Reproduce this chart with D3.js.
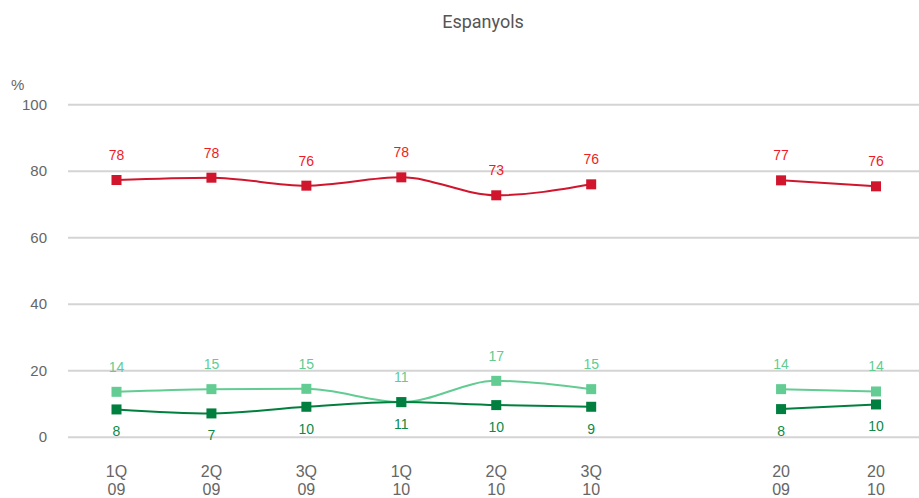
<!DOCTYPE html>
<html>
<head>
<meta charset="utf-8">
<script src="https://cdn.jsdelivr.net/npm/d3@7"></script>
<style>
html,body{margin:0;padding:0;background:#fff;}
svg{display:block;font-family:"Liberation Sans",Arial,sans-serif;}
</style>
</head>
<body>
<svg id="chart" width="919" height="498"></svg>
<script>
const categories = ["1Q|09","2Q|09","3Q|09","1Q|10","2Q|10","3Q|10","gap","20|09","20|10"];
const groups = [["1Q|09","2Q|09","3Q|09","1Q|10","2Q|10","3Q|10"],["20|09","20|10"]];
const redValues   = [77.2, 77.9, 75.5, 78.0, 72.6, 75.9, null, 77.1, 75.3];
const redLabels   = ["78","78","76","78","73","76",null,"77","76"];
const lightValues = [13.5, 14.3, 14.4, 10.4, 16.8, 14.3, null, 14.3, 13.6];
const lightLabels = ["14","15","15","11","17","15",null,"14","14"];
const darkValues  = [8.2, 7.0, 9.0, 10.4, 9.5, 9.0, null, 8.3, 9.7];
const darkLabels  = ["8","7","10","11","10","9",null,"8","10"];
const yTicks = [0, 20, 40, 60, 80, 100];

const svg = d3.select("#chart");
const x = d3.scalePoint().domain(categories).range([116.5, 876]);
const y = d3.scaleLinear().domain([0, 100]).range([436.7, 104.2]);

svg.append("text").attr("x", 483).attr("y", 28).attr("text-anchor", "middle")
  .attr("font-family", "Roboto, 'Liberation Sans', sans-serif")
  .attr("font-size", 18).attr("fill", "#555").text("Espanyols");

svg.append("text").attr("x", 11).attr("y", 90).attr("font-size", 15).attr("fill", "#666").text("%");

// grid + y axis
const yAxis = d3.axisLeft(y).tickValues(yTicks).tickSize(-(919 - 68)).tickPadding(21);
const ga = svg.append("g").attr("transform", "translate(68,0)").call(yAxis);
ga.select(".domain").remove();
ga.selectAll(".tick line").attr("stroke", "#d4d4d4").attr("stroke-width", 2);
ga.selectAll(".tick text").attr("font-size", 15).attr("fill", "#666")
  .attr("font-family", "'Liberation Sans', Arial, sans-serif");

// x labels
const xl = svg.append("g");
categories.forEach(c => {
  if (c === "gap") return;
  const [a, b] = c.split("|");
  const t = xl.append("text").attr("x", x(c)).attr("text-anchor", "middle")
    .attr("font-size", 16).attr("fill", "#666");
  t.append("tspan").attr("x", x(c)).attr("y", 477).text(a);
  t.append("tspan").attr("x", x(c)).attr("y", 495).text(b);
});

const series = [
  {vals: redValues, labels: redLabels, color: "#d0152d", labColor: "#ee1c25", dy: -20},
  {vals: lightValues, labels: lightLabels, color: "#62cc93", labColor: "#62cc93", dy: -20},
  {vals: darkValues, labels: darkLabels, color: "#007f3e", labColor: "#0b8a48", dy: 27}
];

const line = d3.line().x(d => x(d.c)).y(d => y(d.v)).curve(d3.curveMonotoneX);

series.forEach(s => {
  const pts = categories.map((c, i) => ({c, v: s.vals[i], l: s.labels[i]})).filter(d => d.v != null);
  groups.forEach(g => {
    const gp = pts.filter(d => g.includes(d.c));
    svg.append("path").datum(gp).attr("d", line).attr("fill", "none")
      .attr("stroke", s.color).attr("stroke-width", 2);
  });
  svg.append("g").selectAll("rect").data(pts).join("rect")
    .attr("x", d => x(d.c) - 5).attr("y", d => y(d.v) - 5)
    .attr("width", 10).attr("height", 10).attr("fill", s.color);
  svg.append("g").selectAll("text").data(pts).join("text")
    .attr("x", d => x(d.c)).attr("y", d => y(d.v) + s.dy)
    .attr("text-anchor", "middle").attr("font-size", 14).attr("fill", s.labColor)
    .text(d => d.l);
});
</script>
</body>
</html>
